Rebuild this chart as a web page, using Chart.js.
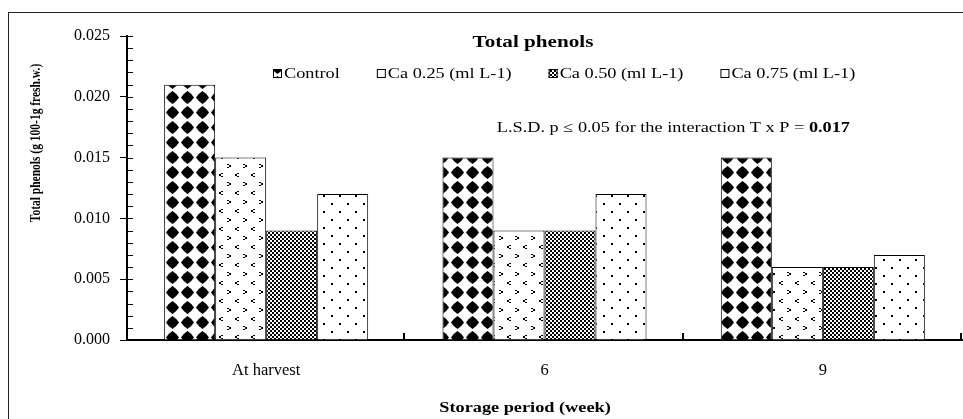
<!DOCTYPE html>
<html>
<head>
<meta charset="utf-8">
<script src="https://cdn.jsdelivr.net/npm/chart.js@4.4.1/dist/chart.umd.min.js"></script>
<style>
  body { margin: 0; background: #fff; }
  canvas { display: block; }
</style>
</head>
<body>
<canvas id="phenolChart" width="963" height="419"></canvas>
<script>
const periods = ['At harvest', '6', '9'];
const seriesNames = ['Control', 'Ca 0.25 (ml L-1)', 'Ca 0.50 (ml L-1)', 'Ca 0.75 (ml L-1)'];
const control = [0.021, 0.015, 0.015];
const ca025 = [0.015, 0.009, 0.006];
const ca050 = [0.009, 0.009, 0.006];
const ca075 = [0.012, 0.012, 0.007];

const serif = "'Liberation Serif', 'Times New Roman', serif";
// the original picture is a bit wider than tall text would be
const stretch = 1.26;

function makePattern(w, h, draw) {
    const c = document.createElement('canvas');
    c.width = w;
    c.height = h;
    const g = c.getContext('2d');
    g.fillStyle = '#fff';
    g.fillRect(0, 0, w, h);
    g.fillStyle = '#000';
    draw(g);
    return g.createPattern(c, 'repeat');
}

// fat diamonds with bulging sides, white lattice between
const diamonds = makePattern(15, 15, g => {
    g.beginPath();
    g.moveTo(7.5, 1);
    g.quadraticCurveTo(11.5, 3.5, 14, 7.5);
    g.quadraticCurveTo(11.5, 11.5, 7.5, 14);
    g.quadraticCurveTo(3.5, 11.5, 1, 7.5);
    g.quadraticCurveTo(3.5, 3.5, 7.5, 1);
    g.closePath();
    g.fill();
});
const chevrons = makePattern(16, 18, g => {
    // ">" mark
    g.fillRect(3, 2, 2, 1);
    g.fillRect(5, 3, 2, 2);
    g.fillRect(3, 5, 2, 1);
    // "<" mark
    g.fillRect(13, 11, 2, 1);
    g.fillRect(11, 12, 2, 2);
    g.fillRect(13, 14, 2, 1);
});
const checker = makePattern(4, 4, g => {
    g.fillRect(0, 0, 2, 2);
    g.fillRect(2, 2, 2, 2);
    g.fillRect(1, 1, 1, 1);
});
const dots = makePattern(16, 16, g => {
    g.fillRect(3, 3, 2, 2);
    g.fillRect(11, 11, 2, 2);
});

function stretchedText(ctx, text, x, y, align) {
    const w = ctx.measureText(text).width * stretch;
    let left = x;
    if (align === 'center') left = x - w / 2;
    if (align === 'right') left = x - w;
    ctx.save();
    ctx.translate(left, y);
    ctx.scale(stretch, 1);
    ctx.textAlign = 'left';
    ctx.fillText(text, 0, 0);
    ctx.restore();
    return w;
}

const decorations = {
    id: 'decorations',
    beforeDraw(chart) {
        const ctx = chart.ctx;
        ctx.save();
        ctx.fillStyle = '#fff';
        ctx.fillRect(0, 0, chart.width, chart.height);
        ctx.strokeStyle = '#222';
        ctx.lineWidth = 1;
        ctx.strokeRect(8.5, 12.5, chart.width, chart.height);
        ctx.restore();
    },
    afterDraw(chart) {
        const ctx = chart.ctx;
        const area = chart.chartArea;
        const xs = chart.scales.x;
        const ys = chart.scales.y;
        ctx.save();
        ctx.strokeStyle = '#000';
        ctx.fillStyle = '#000';
        ctx.lineWidth = 1;

        // minor ticks inside the y axis
        for (let v = 0; v <= 25; v++) {
            const y = Math.round(ys.getPixelForValue(v / 1000)) + 0.5;
            ctx.beginPath();
            ctx.moveTo(area.left, y);
            ctx.lineTo(area.left + 6, y);
            ctx.stroke();
        }
        // category ticks pointing up
        const half = (xs.getPixelForValue(1) - xs.getPixelForValue(0)) / 2;
        ctx.lineWidth = 2;
        for (let i = 0; i < periods.length; i++) {
            const x = Math.round(xs.getPixelForValue(i) + half) - 1;
            ctx.beginPath();
            ctx.moveTo(x, area.bottom);
            ctx.lineTo(x, area.bottom - 7);
            ctx.stroke();
        }

        ctx.textBaseline = 'middle';

        // title
        ctx.font = 'bold 16.8px ' + serif;
        stretchedText(ctx, 'Total phenols', 533, 43, 'center');

        // legend
        ctx.font = '14.5px ' + serif;
        let lx = 273;
        chart.data.datasets.forEach(ds => {
            ctx.fillStyle = ds.backgroundColor;
            ctx.fillRect(lx, 69, 9, 9);
            ctx.lineWidth = 1;
            ctx.strokeRect(lx + 0.5, 69.5, 8, 8);
            ctx.fillStyle = '#000';
            const w = stretchedText(ctx, ds.label, lx + 11, 74, 'left');
            lx += 11 + w + 37;
        });

        // LSD note
        const note = 'L.S.D. p \u2264 0.05 for the interaction T x P = ';
        const lsd = '0.017';
        ctx.font = 'bold 14.5px ' + serif;
        const wb = ctx.measureText(lsd).width * stretch;
        ctx.font = '14.5px ' + serif;
        const wn = ctx.measureText(note).width * stretch;
        const nx = 850 - wb - wn;
        stretchedText(ctx, note, nx, 128, 'left');
        ctx.font = 'bold 14.5px ' + serif;
        stretchedText(ctx, lsd, nx + wn, 128, 'left');

        // axis titles
        ctx.font = 'bold 14.5px ' + serif;
        stretchedText(ctx, 'Storage period (week)', 525, 408, 'center');

        ctx.font = 'bold 11.5px ' + serif;
        ctx.translate(36, 143);
        ctx.rotate(-Math.PI / 2);
        ctx.scale(1, stretch);
        ctx.textAlign = 'center';
        ctx.fillText('Total phenols (g 100-1g fresh.w.)', 0, 0);
        ctx.restore();
    }
};

const fills = [diamonds, chevrons, checker, dots];
const values = [control, ca025, ca050, ca075];

const ctx = document.getElementById('phenolChart').getContext('2d');
const phenolChart = new Chart(ctx, {
    type: 'bar',
    data: {
        labels: periods,
        datasets: seriesNames.map((name, i) => ({
            label: name,
            data: values[i],
            backgroundColor: fills[i],
            borderColor: '#000',
            borderWidth: 1,
            categoryPercentage: 0.733,
            barPercentage: 1.0
        }))
    },
    options: {
        responsive: false,
        animation: false,
        devicePixelRatio: 1,
        layout: {
            padding: { left: 0, top: 36, right: 1, bottom: 0 }
        },
        plugins: {
            legend: { display: false },
            title: { display: false },
            tooltip: { enabled: false }
        },
        scales: {
            x: {
                offset: true,
                grid: { display: true, drawOnChartArea: false, drawTicks: false, offset: true },
                border: { display: true, color: '#000', width: 2 },
                ticks: {
                    color: '#000',
                    padding: 21,
                    font: { family: serif, size: 16.5 }
                },
                afterFit(scale) { scale.height = 79; }
            },
            y: {
                min: 0,
                max: 0.025,
                grid: { display: true, drawOnChartArea: false, drawTicks: true, tickLength: 7, color: '#000' },
                border: { display: true, color: '#000', width: 2 },
                ticks: {
                    stepSize: 0.005,
                    color: '#000',
                    padding: 10,
                    font: { family: serif, size: 16 },
                    callback: v => v.toFixed(3)
                },
                afterFit(scale) { scale.width = 127; }
            }
        }
    },
    plugins: [decorations]
});
</script>
</body>
</html>
